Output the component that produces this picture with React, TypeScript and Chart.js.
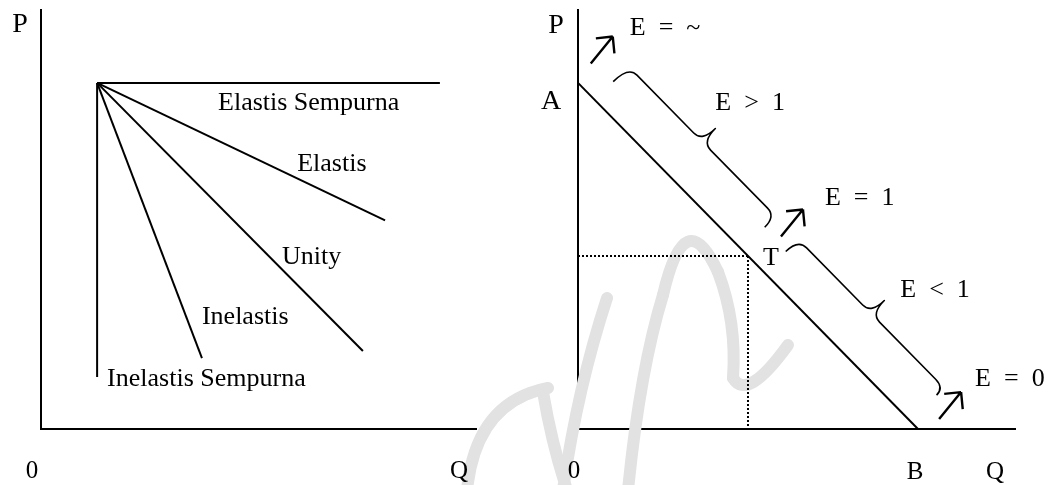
import React, { useEffect, useRef } from "react";
import { Chart, registerables } from "chart.js";

Chart.register(...registerables);

// ---------- Left panel: demand curves of different elasticity ----------
const leftCurveNames = ["Elastis Sempurna", "Elastis", "Unity", "Inelastis", "Inelastis Sempurna"];
const leftPivot = [12.9, 82.6];
const leftEndX = [91.7, 79.1, 74.0, 37.0, 12.9];
const leftEndY = [82.6, 49.8, 18.6, 16.9, 12.4];
const leftLabelX = [40.7, 58.9, 55.4, 37.0, 15.2];
const leftLabelY = [78.3, 63.6, 41.5, 27.0, 12.4];

// ---------- Right panel: linear demand curve A-B ----------
const demandX = [0, 77.8];
const demandY = [82.6, 0];
const pointT = [38.9, 41.3];
const braceLabels = ["E  >  1", "E  <  1"];
const braceFrom = [0.049, 0.548];
const braceTo = [0.482, 0.977];
const arrowLabels = ["E  =  ~", "E  =  1", "E  =  0"];
const arrowAt = [-0.014, 0.515, 1.012];
const axisLabelsLeft = ["P", "0", "Q"];
const axisLabelsRight = ["P", "A", "0", "B", "Q", "T"];

// ---------- layout / style ----------
const FONT = '"Liberation Serif", "Times New Roman", serif';
const CURVE_FS = 26;
const BIG_FS = 28;
const AXIS_FS = 25;
const arrowOffsetN = [40, 54.5, 39.3];
const arrowLabelDx = [17, 22, 14];
const arrowLabelDy = [-10, -13, -15];
const braceLabelDx = [0, 16];
const braceLabelDy = [-27, -12];
const braceEndN = [[26, 32], [30, 37]];

// watermark strokes (page pixel coordinates), decoration only
const watermark = [
  [[467, 490], [476, 402], [548, 388]],
  [[543, 392], [552, 445], [567, 490]],
  [[607, 298], [577, 390], [563, 490]],
  [[663, 295], [685, 200], [718, 272]],
  [[663, 295], [640, 370], [628, 490]],
  [[718, 272], [737, 322], [733, 378]],
  [[733, 378], [747, 402], [788, 345]],
];

const capBase = (cy: number, fs: number) => cy + fs * 0.33;

const makeAxis = (min: number, max: number) => ({
  type: "linear" as const,
  min,
  max,
  display: true,
  grid: { display: false, drawTicks: false },
  border: { display: true, color: "#000", width: 2 },
  ticks: { display: false },
});

const watermarkPlugin = (offsetX: number) => ({
  id: "wm" + offsetX,
  beforeDatasetsDraw(chart: any) {
    const ctx = chart.ctx;
    ctx.save();
    ctx.translate(-offsetX, 0);
    ctx.strokeStyle = "#e2e2e2";
    ctx.lineWidth = 12;
    ctx.lineCap = "round";
    for (const [a, c, b] of watermark) {
      ctx.beginPath();
      ctx.moveTo(a[0], a[1]);
      ctx.quadraticCurveTo(c[0], c[1], b[0], b[1]);
      ctx.stroke();
    }
    ctx.restore();
  },
});

const leftLabelsPlugin = {
  id: "leftLabels",
  afterDatasetsDraw(chart: any) {
    const { ctx, chartArea, scales } = chart;
    const x = scales.x, y = scales.y;
    ctx.save();
    ctx.fillStyle = "#000";
    ctx.textBaseline = "alphabetic";
    ctx.textAlign = "left";
    ctx.font = `${CURVE_FS}px ${FONT}`;
    leftCurveNames.forEach((name, i) => {
      ctx.fillText(name, x.getPixelForValue(leftLabelX[i]), capBase(y.getPixelForValue(leftLabelY[i]), CURVE_FS));
    });
    ctx.textAlign = "center";
    ctx.font = `${BIG_FS}px ${FONT}`;
    ctx.fillText(axisLabelsLeft[0], chartArea.left - 21, capBase(chartArea.top + 13, BIG_FS));
    ctx.font = `${AXIS_FS}px ${FONT}`;
    ctx.fillText(axisLabelsLeft[1], x.getPixelForValue(0) - 9, capBase(chartArea.bottom + 41, AXIS_FS));
    ctx.fillText(axisLabelsLeft[2], chartArea.right - 17, capBase(chartArea.bottom + 41, AXIS_FS));
    ctx.restore();
  },
};

const rightAnnotPlugin = {
  id: "rightAnnot",
  afterDatasetsDraw(chart: any) {
    const { ctx, chartArea, scales } = chart;
    const x = scales.x, y = scales.y;
    const A = { x: x.getPixelForValue(demandX[0]), y: y.getPixelForValue(demandY[0]) };
    const B = { x: x.getPixelForValue(demandX[1]), y: y.getPixelForValue(demandY[1]) };
    const L = Math.hypot(B.x - A.x, B.y - A.y);
    const u = { x: (B.x - A.x) / L, y: (B.y - A.y) / L };
    const nv = { x: u.y, y: -u.x };
    const P = (s: number, n: number) => ({ x: A.x + s * u.x + n * nv.x, y: A.y + s * u.y + n * nv.y });

    ctx.save();
    ctx.strokeStyle = "#000";
    ctx.fillStyle = "#000";
    ctx.lineJoin = "round";

    // braces
    const na = 47.5, nt = 66, r = 12;
    ctx.lineWidth = 1.6;
    braceLabels.forEach((lab, i) => {
      const s0 = braceFrom[i] * L, s1 = braceTo[i] * L, sm = (s0 + s1) / 2;
      const [ne0, ne1] = braceEndN[i];
      ctx.beginPath();
      let p = P(s0, ne0);
      ctx.moveTo(p.x, p.y);
      let c = P(s0, na), e = P(s0 + r, na);
      ctx.quadraticCurveTo(c.x, c.y, e.x, e.y);
      e = P(sm - r, na);
      ctx.lineTo(e.x, e.y);
      c = P(sm, na); e = P(sm, nt);
      ctx.quadraticCurveTo(c.x, c.y, e.x, e.y);
      c = P(sm, na); e = P(sm + r, na);
      ctx.quadraticCurveTo(c.x, c.y, e.x, e.y);
      e = P(s1 - r, na);
      ctx.lineTo(e.x, e.y);
      c = P(s1, na); e = P(s1, ne1);
      ctx.quadraticCurveTo(c.x, c.y, e.x, e.y);
      ctx.stroke();
      const tip = P(sm, nt);
      ctx.font = `${CURVE_FS}px ${FONT}`;
      ctx.textAlign = "left";
      ctx.fillText(lab, tip.x + braceLabelDx[i], capBase(tip.y + braceLabelDy[i], CURVE_FS));
    });

    // arrows
    const v = { x: 22, y: -27 };
    const vl = Math.hypot(v.x, v.y);
    const ux = v.x / vl, uy = v.y / vl;
    ctx.lineWidth = 2.4;
    ctx.lineCap = "butt";
    arrowLabels.forEach((lab, i) => {
      const c = P(arrowAt[i] * L, arrowOffsetN[i]);
      const tail = { x: c.x - v.x / 2, y: c.y - v.y / 2 };
      const head = { x: c.x + v.x / 2, y: c.y + v.y / 2 };
      ctx.beginPath();
      ctx.moveTo(tail.x, tail.y);
      ctx.lineTo(head.x, head.y);
      const hl = 17, ang = 0.78;
      for (const sg of [1, -1]) {
        const a = -ux, b = -uy;
        const cs = Math.cos(ang), sn = Math.sin(ang) * sg;
        ctx.moveTo(head.x + hl * (a * cs - b * sn), head.y + hl * (a * sn + b * cs));
        ctx.lineTo(head.x, head.y);
      }
      ctx.stroke();
      ctx.font = `${CURVE_FS}px ${FONT}`;
      ctx.textAlign = "left";
      ctx.fillText(lab, head.x + arrowLabelDx[i], capBase(head.y + arrowLabelDy[i], CURVE_FS));
    });

    // axis / point labels
    ctx.textAlign = "center";
    const T = { x: x.getPixelForValue(pointT[0]), y: y.getPixelForValue(pointT[1]) };
    ctx.font = `${BIG_FS}px ${FONT}`;
    ctx.fillText(axisLabelsRight[0], chartArea.left - 22, capBase(chartArea.top + 14, BIG_FS));
    ctx.fillText(axisLabelsRight[1], A.x - 27, capBase(A.y + 17, BIG_FS));
    ctx.font = `${AXIS_FS}px ${FONT}`;
    ctx.fillText(axisLabelsRight[2], x.getPixelForValue(0) - 4, capBase(chartArea.bottom + 41, AXIS_FS));
    ctx.fillText(axisLabelsRight[3], B.x - 3, capBase(chartArea.bottom + 42, AXIS_FS));
    ctx.fillText(axisLabelsRight[4], chartArea.right - 20, capBase(chartArea.bottom + 42, AXIS_FS));
    ctx.font = `${CURVE_FS}px ${FONT}`;
    ctx.fillText(axisLabelsRight[5], T.x + 23, capBase(T.y, CURVE_FS));
    ctx.restore();
  },
};

const lineDs = (data: { x: number; y: number }[], extra: any = {}) => ({
  type: "line" as const,
  data,
  showLine: true,
  borderColor: "#000",
  borderWidth: 2,
  pointRadius: 0,
  fill: false,
  tension: 0,
  clip: false as any,
  ...extra,
});

export default function App() {
  const leftRef = useRef<HTMLCanvasElement>(null);
  const rightRef = useRef<HTMLCanvasElement>(null);

  useEffect(() => {
    const leftChart = new Chart(leftRef.current as HTMLCanvasElement, {
      type: "scatter",
      data: {
        datasets: leftCurveNames.map((name, i) =>
          lineDs(
            [
              { x: leftPivot[0], y: leftPivot[1] },
              { x: leftEndX[i], y: leftEndY[i] },
            ],
            { label: name }
          )
        ),
      },
      options: {
        responsive: false,
        animation: false,
        devicePixelRatio: 1,
        layout: { padding: { left: 41, right: 52, top: 10, bottom: 56 } },
        scales: { x: makeAxis(0, 100), y: makeAxis(0, 100) },
        plugins: { legend: { display: false }, tooltip: { enabled: false } },
        events: [],
      },
      plugins: [watermarkPlugin(0), leftLabelsPlugin],
    } as any);

    const rightChart = new Chart(rightRef.current as HTMLCanvasElement, {
      type: "scatter",
      data: {
        datasets: [
          lineDs(
            [
              { x: demandX[0], y: demandY[0] },
              { x: demandX[1], y: demandY[1] },
            ],
            { label: "Demand" }
          ),
          lineDs(
            [
              { x: 0, y: pointT[1] },
              { x: pointT[0], y: pointT[1] },
            ],
            { label: "P at T", borderWidth: 2, borderDash: [2, 2] }
          ),
          lineDs(
            [
              { x: pointT[0], y: pointT[1] },
              { x: pointT[0], y: 0 },
            ],
            { label: "Q at T", borderWidth: 2, borderDash: [2, 2] }
          ),
        ],
      },
      options: {
        responsive: false,
        animation: false,
        devicePixelRatio: 1,
        layout: { padding: { left: 50, right: 41, top: 10, bottom: 56 } },
        scales: { x: makeAxis(0, 100), y: makeAxis(0, 100) },
        plugins: { legend: { display: false }, tooltip: { enabled: false } },
        events: [],
      },
      plugins: [watermarkPlugin(528), rightAnnotPlugin],
    } as any);

    return () => {
      leftChart.destroy();
      rightChart.destroy();
    };
  }, []);

  return (
    <div style={{ position: "fixed", left: 0, top: 0, width: 1056, height: 485, background: "#fff" }}>
      <canvas ref={leftRef} width={528} height={485} style={{ position: "absolute", left: 0, top: 0, width: 528, height: 485 }} />
      <canvas ref={rightRef} width={528} height={485} style={{ position: "absolute", left: 528, top: 0, width: 528, height: 485 }} />
    </div>
  );
}
